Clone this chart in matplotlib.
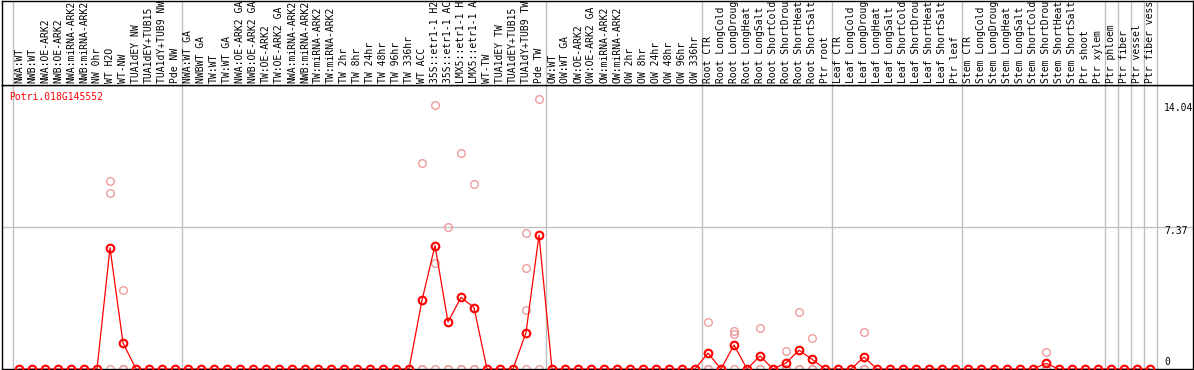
import numpy as np
import matplotlib
matplotlib.use("Agg")
import matplotlib.pyplot as plt

# sample names, in column order
samples = [
    "NWA:WT", "NWB:WT", "NWA:OE-ARK2", "NWB:OE-ARK2", "NWA:miRNA-ARK2", "NWB:miRNA-ARK2",
    "NW 0hr", "WT H2O", "WT-NW", "TUA1dEY NW", "TUA1dEY+TUB15 NW", "TUA1dY+TUB9 NW", "Pde NW",
    "NWA:WT GA", "NWBWT GA", "TW:WT", "TW:WT GA", "NWA:OE-ARK2 GA", "NWB:OE-ARK2 GA",
    "TW:OE-ARK2", "TW:OE-ARK2 GA", "NWA:miRNA-ARK2", "NWB:miRNA-ARK2", "TW:miRNA-ARK2",
    "TW:miRNA-ARK2", "TW 2hr", "TW 8hr", "TW 24hr", "TW 48hr", "TW 96hr", "TW 336hr",
    "WT ACC", "35S::etr1-1 H2O", "35S::etr1-1 ACC", "LMX5::etr1-1 H2O", "LMX5::etr1-1 ACC",
    "WT-TW", "TUA1dEY TW", "TUA1dEY+TUB15 TW", "TUA1dY+TUB9 TW", "Pde TW",
    "OW:WT", "OW:WT GA", "OW:OE-ARK2", "OW:OE-ARK2 GA", "OW:miRNA-ARK2", "OW:miRNA-ARK2",
    "OW 2hr", "OW 8hr", "OW 24hr", "OW 48hr", "OW 96hr", "OW 336hr",
    "Root CTR", "Root LongCold", "Root LongDrought", "Root LongHeat", "Root LongSalt",
    "Root ShortCold", "Root ShortDrought", "Root ShortHeat", "Root ShortSalt", "Ptr root",
    "Leaf CTR", "Leaf LongCold", "Leaf LongDrought", "Leaf LongHeat", "Leaf LongSalt",
    "Leaf ShortCold", "Leaf ShortDrought", "Leaf ShortHeat", "Leaf ShortSalt", "Ptr leaf",
    "Stem CTR", "Stem LongCold", "Stem LongDrought", "Stem LongHeat", "Stem LongSalt",
    "Stem ShortCold", "Stem ShortDrought", "Stem ShortHeat", "Stem ShortSalt",
    "Ptr shoot", "Ptr xylem", "Ptr phloem", "Ptr fiber", "Ptr vessel", "Ptr fiber vessel",
]

# mean expression per sample (non-zero ones only)
mean_samples = ["WT H2O", "WT-NW", "WT ACC", "35S::etr1-1 H2O", "35S::etr1-1 ACC",
                "LMX5::etr1-1 H2O", "LMX5::etr1-1 ACC", "TUA1dY+TUB9 TW", "Pde TW",
                "Root CTR", "Root LongDrought", "Root LongSalt", "Root ShortDrought",
                "Root ShortHeat", "Root ShortSalt", "Leaf LongDrought", "Stem ShortDrought"]
mean_values = [6.31, 1.36, 3.58, 6.43, 2.45, 3.73, 3.20, 1.90, 6.98,
               0.83, 1.25, 0.68, 0.31, 0.98, 0.51, 0.62, 0.29]

# individual replicates (same samples)
rep_values = [[9.78, 9.15, 0], [4.13, 0, 0], [10.73, 0, 0], [13.77, 5.53, 0], [7.41, 0, 0],
              [11.24, 0, 0], [9.62, 0, 0], [7.08, 5.27, 3.06, 0], [14.04, 0],
              [2.45, 0, 0], [1.97, 1.83, 0], [2.11, 0, 0], [0.93, 0, 0],
              [2.99, 0, 0], [1.59, 0, 0], [1.95, 0, 0], [0.90, 0, 0]]

# group boundaries (after these samples)
group_ends = ["Pde NW", "Pde TW", "OW 336hr", "Ptr root", "Ptr leaf",
              "Ptr xylem", "Ptr phloem", "Ptr fiber", "Ptr vessel", "Ptr fiber vessel"]

y_ticks = [0, 7.37, 14.04]
gene = "Potri.018G145552"

# ---- layout (pixels) ----
W, H = 1194, 370
x0, step = 19, 13           # px of first column, px between columns
left, right = 1.5, 1193
head_bot, plot_bot = 85, 369
px_per_unit = 19.2
max_chars = 14              # header only has room for this many characters
fs = 7.0

def px_axes(l, t, r, b):
    return fig.add_axes([l / W, 1 - b / H, (r - l) / W, (b - t) / H])

def col_of(px):
    return 1 + (px - x0) / step

plt.rcParams['font.family'] = 'DejaVu Sans Mono'
fig = plt.figure(figsize=(W / 100, H / 100), dpi=100)

ax = px_axes(left, head_bot, right, plot_bot)
hax = px_axes(left, 0.5, right, head_bot)

n = len(samples)
xs = np.arange(1, n + 1)
idx = {s: i for i, s in enumerate(samples)}
means = np.zeros(n)
for s, v in zip(mean_samples, mean_values):
    means[idx[s]] = v

grid_c = '#c0c0c0'
for a in (ax, hax):
    a.set_xlim(col_of(left), col_of(right))
    a.set_xticks([])
    a.set_yticks([])
    for sp in a.spines.values():
        sp.set_linewidth(1.0)
        sp.set_color('black')
    a.axvline(0.5, color=grid_c, lw=1, zorder=0)
    for g in group_ends:
        a.axvline(idx[g] + 1.5, color=grid_c, lw=1, zorder=0)

ax.set_ylim(0, (plot_bot - head_bot) / px_per_unit)
ax.axhline(y_ticks[1], color=grid_c, lw=1, zorder=0)

# replicates
for s, vals in zip(mean_samples, rep_values):
    ax.plot([idx[s] + 1] * len(vals), vals, ls='none', marker='o', ms=5.5,
            mfc='none', mec='#ec9c9c', mew=1.0, zorder=2)

# mean line
ax.plot(xs, means, color='red', lw=0.9, marker='o', ms=5.5, mfc='none',
        mec='red', mew=1.5, zorder=3)

# right-hand value labels
offsets = [7, -4, -9]
tx = col_of(1164)
for v, off in zip(y_ticks, offsets):
    ax.annotate(f"{v:g}" if v == 0 else f"{v:.2f}", xy=(tx, v), xytext=(0, off),
                textcoords='offset pixels', ha='left', va='center', fontsize=fs)

# sample labels (cut to what fits in the header)
hax.set_ylim(0, head_bot)
for x, s in zip(xs, samples):
    hax.text(x, 2, s[:max_chars].rstrip(), rotation=90, ha='center', va='bottom',
             fontsize=fs)

fig.text(9 / W, 1 - 97 / H, gene, color='red', fontsize=fs, ha='left', va='center')

fig.savefig('out.png', dpi=100)
